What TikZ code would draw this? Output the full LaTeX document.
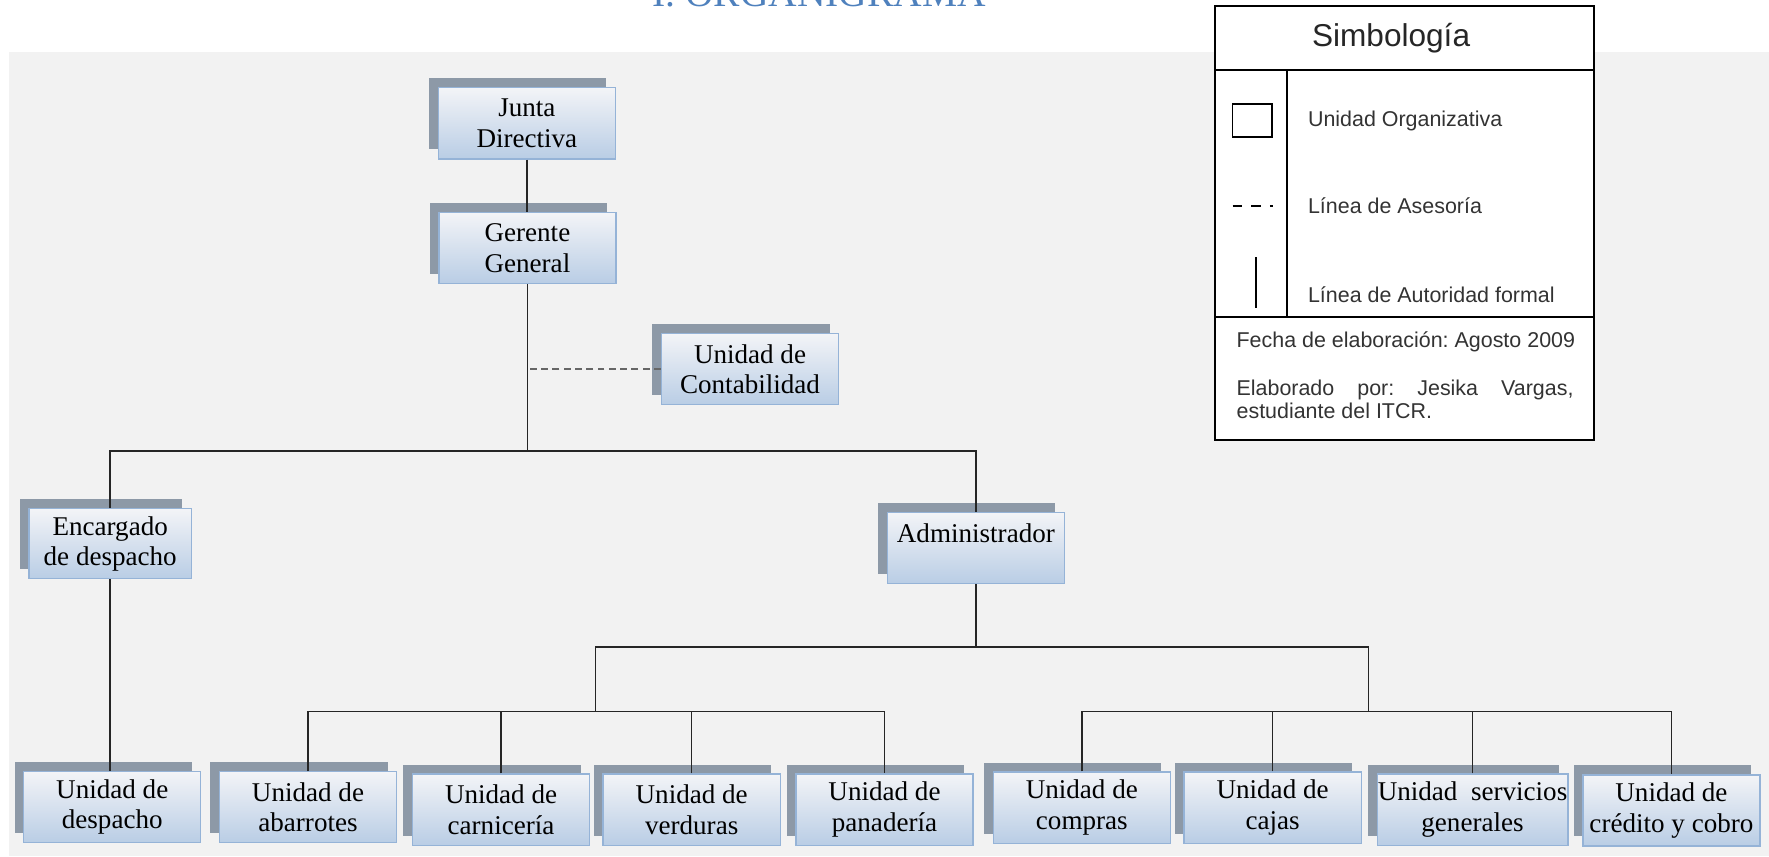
\documentclass[tikz,border=0pt]{standalone}
\usepackage{fontspec}
\setmainfont{Liberation Serif}
\newfontfamily\arialfont{Liberation Sans}
\usepackage{xcolor}
\usetikzlibrary{shadows}

\definecolor{fondogris}{RGB}{242,242,242}
\definecolor{sombragris}{RGB}{141,153,167}
\definecolor{bordeazul}{RGB}{149,179,215}
\definecolor{azulclaro}{RGB}{185,205,229}
\definecolor{blancoazul}{RGB}{243,244,247}
\definecolor{lineagris}{RGB}{38,38,38}
\definecolor{tituloazul}{RGB}{79,129,189}

\begin{document}
\frenchspacing
\begin{tikzpicture}[x=0.5pt, y=-0.5pt,
  unidad/.style={draw=bordeazul, line width=0.6pt, top color=blancoazul, bottom color=azulclaro,
    minimum width=78.5pt, minimum height=31.5pt, inner sep=0pt, align=center,
    font=\fontsize{12}{13.5}\selectfont,
    general shadow={fill=sombragris, shadow xshift=-4pt, shadow yshift=4.25pt}},
  autoridad/.style={draw=lineagris, line width=0.7pt},
  asesoria/.style={draw=black!60, line width=1pt, dash pattern=on 3pt off 2pt},
  leyenda/.style={font=\arialfont\fontsize{9.5}{10.5}\selectfont, text=black!80,
    inner sep=0pt, anchor=base west}]
  \useasboundingbox (0,0) rectangle (1568,759);
  \fill[white] (0,0) rectangle (1568,759);

  % Title (cut by the page edge)
  \node[font=\fontsize{17.5}{19}\selectfont, text=tituloazul, anchor=base west, inner sep=0pt]
    (titulo) at (578,6) {I. ORGANIGRAMA};

  % Background
  \fill[fondogris] (8,45.8) rectangle (1568,759);

  % Top levels
  \node[unidad] (junta) at (467,109.3) {Junta\\Directiva};
  \node[unidad] (gerente) at (467.5,219.8) {Gerente\\General};
  \node[unidad] (contab) at (664.8,327.3) {Unidad de\\Contabilidad};

  % Second level
  \node[unidad, minimum width=72pt, minimum height=31pt] (encargado) at (97.7,482)
    {Encargado\\de despacho};
  \node[unidad] (admin) at (865,485.8) {Administrador\\\phantom{A}};

  % Bottom row
  \node[unidad] (udespacho) at (99.5,715.5) {Unidad de\\despacho};
  \node[unidad] (abarrotes) at (273,715.5) {Unidad de\\abarrotes};
  \node[unidad] (carniceria) at (444.1,717.7) {Unidad de\\carnicería};
  \node[unidad] (verduras) at (613.1,717.7) {Unidad de\\verduras};
  \node[unidad] (panaderia) at (784,717.7) {Unidad de\\panadería};
  \node[unidad] (compras) at (958.9,715.9) {Unidad de\\compras};
  \node[unidad] (cajas) at (1128,715.9) {Unidad de\\cajas};
  \node[unidad, minimum width=84.5pt] (servicios) at (1305.2,717.7) {Unidad~ servicios\\generales};
  \node[unidad] (credito) at (1481.5,718.3) {Unidad de\\crédito y cobro};

  % Lines
  \coordinate (nivel1) at (0,400);
  \coordinate (nivel2) at (0,573.5);
  \coordinate (nivel3) at (0,630.5);
  \coordinate (ramaizq) at (528,573.5);
  \coordinate (ramader) at (1213,573.5);

  \draw[autoridad] (junta.south) -- (junta.south |- gerente.north);
  \draw[autoridad] (gerente.south) -- (gerente.south |- nivel1);
  \draw[asesoria] (contab.west) -- (contab.west -| gerente.south);
  \draw[autoridad] (encargado.north) |- (gerente.south |- nivel1) -| (admin.north);
  \draw[autoridad] (encargado.south) -- (encargado.south |- udespacho.north);

  \draw[autoridad] (admin.south) -- (admin.south |- nivel2);
  \draw[autoridad] (ramaizq |- nivel3) |- (ramader) -- (ramader |- nivel3);
  \draw[autoridad] (abarrotes.north) |- (ramaizq |- nivel3) -| (panaderia.north);
  \foreach \u in {carniceria, verduras}
    \draw[autoridad] (\u.north) -- (\u.north |- nivel3);
  \draw[autoridad] (compras.north) |- (credito.north |- nivel3) -- (credito.north);
  \foreach \u in {cajas, servicios}
    \draw[autoridad] (\u.north) -- (\u.north |- nivel3);

  % Simbologia
  \draw[fill=white, line width=0.9pt] (1077,5.3) rectangle (1412.5,390.1);
  \draw[line width=0.9pt] (1077,62.1) -- (1412.5,62.1);
  \draw[line width=0.9pt] (1140.7,62.1) -- (1140.7,280.7);
  \draw[line width=0.9pt] (1077,280.7) -- (1412.5,280.7);
  \node[font=\arialfont\fontsize{14}{16}\selectfont, text=black!85, anchor=base, inner sep=0pt]
    (simbologia) at (1233,41.4) {Simbología};
  \draw[line width=0.8pt] (1092.5,92.5) rectangle (1127.4,121.2);
  \node[leyenda] (unidadorg) at (1159,112.3) {Unidad Organizativa};
  \draw[line width=1pt, dash pattern=on 4.15pt off 4.1pt] (1092.5,182.3) -- (1128,182.3);
  \node[leyenda] (lineaases) at (1159,189.1) {Línea de Asesoría};
  \draw[line width=1pt] (1113.2,228.1) -- (1113.2,273.4);
  \node[leyenda] (lineaauto) at (1159,268) {Línea de Autoridad formal};
  \node[leyenda] (fecha) at (1095.7,307.9) {Fecha de elaboración: Agosto 2009};
  \node[leyenda, text width=149.3pt, align=justify] (elaborado) at (1095.7,350.2)
    {Elaborado por: Jesika Vargas, \mbox{estudiante} del ITCR.};
\end{tikzpicture}
\end{document}
